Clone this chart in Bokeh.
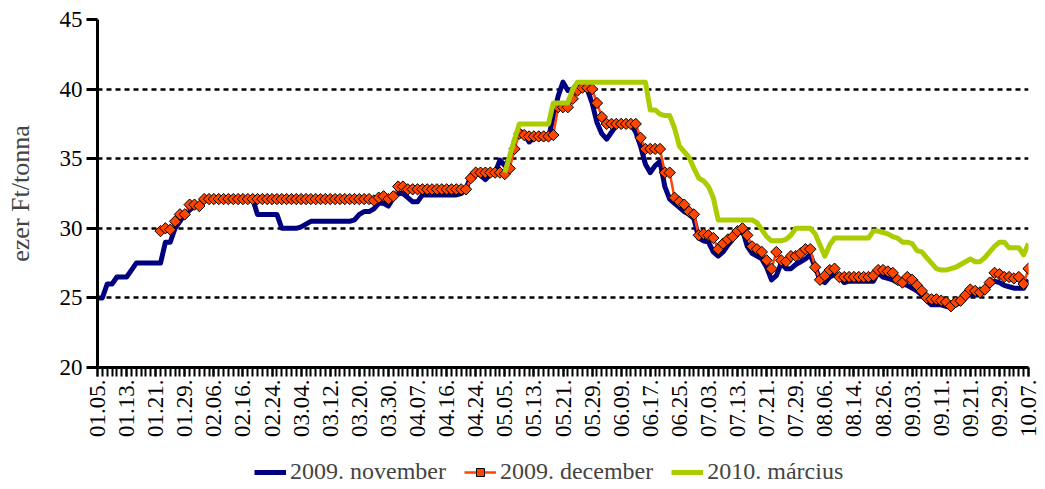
import math
from bokeh.plotting import figure
from bokeh.layouts import column
from bokeh.models import FixedTicker, Range1d, Legend, LegendItem, ColumnDataSource
from bokeh.embed import file_html
from bokeh.resources import INLINE

# tick labels (every 6th trading day)
tick_labels = ["01.05.", "01.13.", "01.21.", "01.29.", "02.06.", "02.16.", "02.24.",
               "03.04.", "03.12.", "03.20.", "03.30.", "04.07.", "04.16.", "04.24.",
               "05.05.", "05.13.", "05.21.", "05.29.", "06.09.", "06.17.", "06.25.",
               "07.03.", "07.13.", "07.21.", "07.29.", "08.06.", "08.14.", "08.26.",
               "09.03.", "09.11.", "09.21.", "09.29.", "10.07."]
label_step = 6
n_days = 193

# 2009. november (from day 0)
nov = [
    25.0, 25.0, 26.0, 26.0, 26.5, 26.5, 26.5, 27.0, 27.5, 27.5,
    27.5, 27.5, 27.5, 27.5, 29.0, 29.0, 30.0, 30.5, 31.0, 31.3,
    31.6, 31.6, 32.1, 32.1, 32.1, 32.1, 32.1, 32.1, 32.1, 32.1,
    32.1, 32.1, 32.1, 31.0, 31.0, 31.0, 31.0, 31.0, 30.0, 30.0,
    30.0, 30.0, 30.1, 30.3, 30.5, 30.5, 30.5, 30.5, 30.5, 30.5,
    30.5, 30.5, 30.5, 30.6, 31.0, 31.2, 31.2, 31.4, 31.8, 31.8,
    31.6, 32.2, 32.5, 32.5, 32.2, 31.9, 31.9, 32.4, 32.4, 32.4,
    32.4, 32.4, 32.4, 32.4, 32.4, 32.5, 32.8, 33.8, 34.0, 33.8,
    33.5, 33.9, 34.0, 34.9, 34.5, 35.0, 36.3, 37.0, 36.8, 36.2,
    36.5, 36.5, 36.5, 36.5, 38.0, 39.5, 40.5, 39.9, 40.0, 40.4,
    40.2, 40.0, 39.0, 37.6, 36.8, 36.4, 36.9, 37.4, 37.5, 37.5,
    37.5, 36.9, 35.9, 34.6, 34.0, 34.5, 34.8, 33.0, 32.1, 31.8,
    31.5, 31.2, 31.0, 30.7, 29.3, 29.1, 29.0, 28.3, 28.0, 28.3,
    28.8, 29.2, 29.6, 29.9, 28.7, 28.2, 28.0, 27.8, 27.2, 26.3,
    26.6, 27.5, 27.1, 27.1, 27.4, 27.6, 27.8, 28.1, 27.2, 26.3,
    26.1, 26.5, 26.7, 26.5, 26.1, 26.2, 26.2, 26.2, 26.2, 26.2,
    26.2, 26.8, 26.5, 26.4, 26.3, 26.1, 26.0, 25.9, 25.7, 25.5,
    25.2, 24.8, 24.5, 24.5, 24.5, 24.4, 24.3, 24.5, 24.7, 25.0,
    25.3, 25.2, 25.2, 25.5, 25.9, 26.2, 26.1, 25.9, 25.8, 25.7,
    25.7, 25.7, 26.3,
]

# 2009. december (from day 13)
dec_start = 13
dec = [
    29.8, 30.0, 29.9, 30.5, 31.0, 31.0, 31.7,
    31.7, 31.6, 32.1, 32.1, 32.1, 32.1, 32.1, 32.1, 32.1, 32.1,
    32.1, 32.1, 32.1, 32.1, 32.1, 32.1, 32.1, 32.1, 32.1, 32.1,
    32.1, 32.1, 32.1, 32.1, 32.1, 32.1, 32.1, 32.1, 32.1, 32.1,
    32.1, 32.1, 32.1, 32.1, 32.1, 32.1, 32.1, 32.0, 32.2, 32.3,
    32.1, 32.3, 33.0, 33.0, 32.8, 32.8, 32.8, 32.8, 32.8, 32.8,
    32.8, 32.8, 32.8, 32.8, 32.8, 32.8, 32.8, 33.6, 34.0, 34.0,
    34.0, 34.0, 34.0, 34.0, 33.9, 34.3, 35.7, 36.8, 36.7, 36.6,
    36.6, 36.6, 36.6, 36.6, 36.7, 38.7, 38.7, 38.7, 39.3, 39.9,
    40.1, 40.1, 40.0, 39.0, 38.0, 37.5, 37.5, 37.5, 37.5, 37.5,
    37.5, 37.5, 36.5, 35.7, 35.7, 35.7, 35.7, 34.0, 34.0, 32.2,
    31.9, 31.7, 31.2, 31.0, 29.5, 29.6, 29.5, 29.3, 28.5, 28.9,
    29.2, 29.4, 29.8, 30.0, 29.5, 28.7, 28.5, 28.3, 27.7, 27.1,
    28.3, 27.7, 27.6, 28.0, 28.0, 28.2, 28.5, 28.5, 27.2, 26.3,
    26.6, 27.0, 27.1, 26.5, 26.5, 26.5, 26.5, 26.5, 26.5, 26.5,
    26.6, 27.0, 27.0, 26.9, 26.8, 26.3, 26.1, 26.5, 26.3, 25.9,
    25.5, 25.0, 24.9, 24.9, 24.8, 24.7, 24.4, 24.7, 24.8, 25.2,
    25.6, 25.5, 25.4, 25.6, 26.1, 26.8, 26.7, 26.5, 26.5, 26.4,
    26.5, 26.0, 27.1,
]

# 2010. március (from day 84)
mar_start = 84
mar = [
    34.0, 35.2, 36.4, 37.5, 37.5, 37.5,
    37.5, 37.5, 37.5, 37.5, 39.0, 39.0, 39.0, 39.0, 40.0, 40.5,
    40.5, 40.5, 40.5, 40.5, 40.5, 40.5, 40.5, 40.5, 40.5, 40.5,
    40.5, 40.5, 40.5, 40.5, 38.5, 38.5, 38.2, 38.1, 38.1, 37.2,
    35.9, 35.5, 35.1, 34.3, 33.6, 33.4, 33.0, 32.2, 30.6, 30.6,
    30.6, 30.6, 30.6, 30.6, 30.6, 30.6, 30.4, 29.9, 29.4, 29.1,
    29.1, 29.1, 29.2, 29.5, 30.0, 30.0, 30.0, 30.0, 29.6, 28.8,
    28.0, 28.8, 29.3, 29.3, 29.3, 29.3, 29.3, 29.3, 29.3, 29.3,
    29.8, 29.8, 29.7, 29.6, 29.4, 29.3, 29.0, 29.0, 28.9, 28.4,
    28.3, 27.9, 27.5, 27.1, 27.0, 27.0, 27.1, 27.2, 27.4, 27.6,
    27.8, 27.6, 27.6, 27.9, 28.3, 28.7, 29.0, 29.0, 28.6, 28.6,
    28.6, 28.1, 28.9,
]

series_names = ["2009. november", "2009. december", "2010. március"]
y_ticks = [20, 25, 30, 35, 40, 45]
y_label = "ezer Ft/tonna"

FONT = "Liberation Serif"
BLUE = "#000080"
ORANGE = "#FF4500"
GREEN = "#AACC00"

p = figure(width=1045, height=450, output_backend="svg",
           toolbar_location=None, x_range=Range1d(0, n_days - 1),
           y_range=Range1d(20, 45), min_border_left=97, min_border_right=17,
           min_border_top=19, min_border_bottom=83)
p.outline_line_color = None
p.background_fill_color = "white"
p.border_fill_color = "white"

src_nov = ColumnDataSource(dict(x=list(range(len(nov))), y=nov))
src_dec = ColumnDataSource(dict(x=list(range(dec_start, dec_start + len(dec))), y=dec))
src_mar = ColumnDataSource(dict(x=list(range(mar_start, mar_start + len(mar))), y=mar))

nov_style = dict(line_color=BLUE, line_width=5, line_join="round")
dec_line_style = dict(line_color=ORANGE, line_width=2.5)
dec_mark_style = dict(marker="square", angle=math.pi / 4, size=8,
                      fill_color=ORANGE, line_color="black", line_width=1)
mar_style = dict(line_color=GREEN, line_width=5, line_join="round")

p.line("x", "y", source=src_nov, **nov_style)
p.line("x", "y", source=src_dec, **dec_line_style)
p.scatter("x", "y", source=src_dec, **dec_mark_style)
p.line("x", "y", source=src_mar, **mar_style)

# axes
p.yaxis.ticker = FixedTicker(ticks=y_ticks)
p.yaxis.axis_line_width = 3
p.yaxis.major_tick_out = 11
p.yaxis.major_tick_in = 0
p.yaxis.major_tick_line_width = 3
p.yaxis.minor_tick_line_color = None
p.yaxis.major_label_text_font = FONT
p.yaxis.major_label_text_font_size = "23px"
p.yaxis.major_label_text_color = "black"
p.yaxis.major_label_standoff = 4
p.yaxis.axis_label = y_label
p.yaxis.axis_label_text_font = FONT
p.yaxis.axis_label_text_font_size = "26px"
p.yaxis.axis_label_text_font_style = "normal"
p.yaxis.axis_label_standoff = 22

major = list(range(0, n_days, label_step))
p.xaxis.ticker = FixedTicker(ticks=major, minor_ticks=list(range(n_days)))
p.xaxis.major_label_overrides = {t: lab for t, lab in zip(major, tick_labels)}
p.xaxis.major_label_orientation = math.pi / 2
p.xaxis.axis_line_width = 3
p.xaxis.major_tick_out = 9
p.xaxis.major_tick_in = 0
p.xaxis.minor_tick_out = 9
p.xaxis.minor_tick_in = 0
p.xaxis.major_tick_line_width = 2
p.xaxis.minor_tick_line_width = 2
p.xaxis.major_label_text_font = FONT
p.xaxis.major_label_text_font_size = "23px"
p.xaxis.major_label_text_color = "black"
p.xaxis.major_label_standoff = 3

p.xgrid.visible = False
p.ygrid.ticker = FixedTicker(ticks=y_ticks[1:])
p.ygrid.grid_line_color = "black"
p.ygrid.grid_line_width = 2.5
p.ygrid.grid_line_dash = "5 4"

# legend strip below the chart (proxy renderers carry no visible data)
lf = figure(width=1045, height=39, output_backend="svg", toolbar_location=None,
            x_range=Range1d(0, 1), y_range=Range1d(0, 1), min_border=0)
lf.outline_line_color = None
lf.axis.visible = False
lf.grid.visible = False
nan = float("nan")
proxy = dict(x=[nan], y=[nan])
l_nov = lf.line("x", "y", source=ColumnDataSource(proxy), **nov_style)
l_dec_l = lf.line("x", "y", source=ColumnDataSource(proxy), **dec_line_style)
l_dec_m = lf.scatter("x", "y", source=ColumnDataSource(proxy), **dec_mark_style)
l_mar = lf.line("x", "y", source=ColumnDataSource(proxy), **mar_style)

legend = Legend(items=[
    LegendItem(label=series_names[0], renderers=[l_nov]),
    LegendItem(label=series_names[1], renderers=[l_dec_l, l_dec_m]),
    LegendItem(label=series_names[2], renderers=[l_mar]),
], orientation="horizontal", location=(157, 4))
legend.label_text_font = FONT
legend.label_text_font_size = "24px"
legend.glyph_width = 32
legend.glyph_height = 20
legend.spacing = 18
legend.label_standoff = 4
legend.padding = 0
legend.margin = 0
legend.border_line_color = None
legend.background_fill_alpha = 0
lf.add_layout(legend, "center")

layout = column(p, lf, spacing=0)
open("out.html", "w").write(file_html(layout, INLINE))
